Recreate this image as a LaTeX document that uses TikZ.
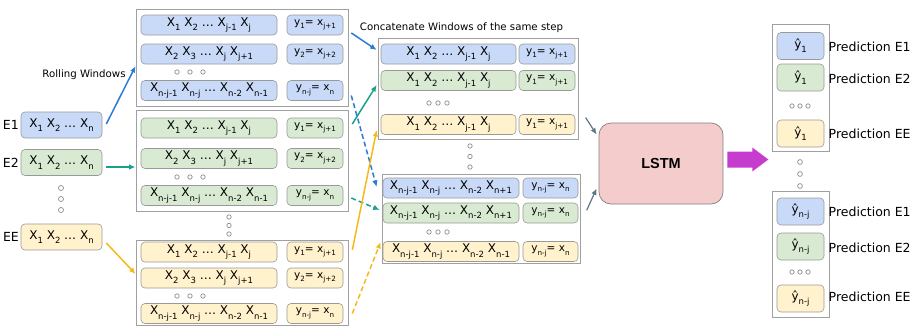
\documentclass[tikz,border=0pt]{standalone}
\usepackage{fontspec}
\setmainfont{DejaVu Sans}
\newfontfamily\lsans{Liberation Sans}
\usetikzlibrary{arrows.meta,calc}

\definecolor{cblue}{HTML}{C9DAF8}
\definecolor{cgreen}{HTML}{D9EAD3}
\definecolor{cyellow}{HTML}{FFF2CC}
\definecolor{cpink}{HTML}{F4CCCC}
\definecolor{edgegray}{HTML}{999999}
\definecolor{framegray}{HTML}{A0A0A0}
\definecolor{dotgray}{HTML}{8C8C8C}
\definecolor{ablue}{HTML}{2B7BD6}
\definecolor{ateal}{HTML}{1BA08C}
\definecolor{ayellow}{HTML}{F5B91E}
\definecolor{amag}{HTML}{C63CCE}
\definecolor{agray}{HTML}{5F7585}

\newcommand\sbs[1]{\raisebox{-0.65ex}{\fontsize{8.5}{8.5}\selectfont #1}}
\newcommand\sbt[1]{\raisebox{-0.6ex}{\fontsize{7.2}{7.2}\selectfont #1}}
\newcommand\txRowA{X\sbs{1} X\sbs{2} … X\sbs{j-1} X\sbs{j}}
\newcommand\txRowB{X\sbs{2} X\sbs{3} … X\sbs{j} X\sbs{j+1}}
\newcommand\txRowC{X\sbs{n-j-1} X\sbs{n-j} … X\sbs{n-2} X\sbs{n-1}}
\newcommand\txRowD{X\sbs{n-j-1} X\sbs{n-j} … X\sbs{n-2} X\sbs{n+1}}
\newcommand\txYA{y\sbt{1}= x\sbt{j+1}}
\newcommand\txYB{y\sbt{2}= x\sbt{j+2}}
\newcommand\txYC{y\sbt{n-j}= x\sbt{n}}
\newcommand\txIn{X\sbs{1} X\sbs{2} … X\sbs{n}}

\tikzset{
  frame/.style={draw=framegray, line width=0.8pt, inner sep=0pt},
  cell/.style={draw=edgegray, line width=0.6pt, rounded corners=4pt, inner sep=0pt,
    font=\fontsize{12}{12}\selectfont},
  lcell/.style={cell, minimum width=136pt, minimum height=20pt},
  rcell/.style={cell, minimum width=56pt, minimum height=20pt, font=\fontsize{10.5}{10.5}\selectfont},
  incell/.style={cell, minimum width=81pt, minimum height=26pt},
  pcell/.style={cell, minimum width=47pt, minimum height=27pt},
  dotc/.style={draw=dotgray, line width=0.7pt},
  conn/.style={line width=1.5pt, -{Latex[length=6.5pt,width=5.5pt]}},
  dsh/.style={dash pattern=on 5pt off 3pt},
  lbl/.style={inner sep=0pt, font=\fontsize{12.5}{13}\selectfont},
}

\begin{document}
\begin{tikzpicture}[x=1pt,y=-1pt]
\useasboundingbox (0,0) rectangle (917,327);

% ---------- input series ----------
\node[incell, fill=cblue]   (e1) at (61.5,125)   {\txIn};
\node[incell, fill=cgreen]  (e2) at (61.5,162.5) {\txIn};
\node[incell, fill=cyellow] (ee) at (61.5,237)   {\txIn};
\node[lbl, anchor=east] (le1) at (19,125)   {E1};
\node[lbl, anchor=east] (le2) at (19,162.5) {E2};
\node[lbl, anchor=east] (lee) at (19,237)   {EE};
\foreach \y in {188,199,210} \draw[dotc] (61,\y) circle (2.5pt);
\node[inner sep=0pt, font=\fontsize{10.2}{10.2}\selectfont] (rw) at (84,75) {Rolling Windows};

% ---------- rolling window groups ----------
\node[frame, minimum width=212pt, minimum height=97pt]  (g1) at (242,57.5)  {};
\node[frame, minimum width=212pt, minimum height=101pt] (g2) at (242,160.5) {};
\node[frame, minimum width=212pt, minimum height=85pt]  (g3) at (242,282.5) {};

\node[lcell, fill=cblue] (l11) at (209,25) {\txRowA};
\node[rcell, fill=cblue] (r11) at (315,25) {\txYA};
\node[lcell, fill=cblue] (l12) at (209,54) {\txRowB};
\node[rcell, fill=cblue] (r12) at (315,54) {\txYB};
\node[lcell, fill=cblue] (l13) at (209,90.5) {\txRowC};
\node[rcell, fill=cblue] (r13) at (315,90.5) {\txYC};
\foreach \x in {177,190,203} \draw[dotc] (\x,72) circle (2.2pt);

\node[lcell, fill=cgreen] (l21) at (209,128) {\txRowA};
\node[rcell, fill=cgreen] (r21) at (315,128) {\txYA};
\node[lcell, fill=cgreen] (l22) at (209,158.5) {\txRowB};
\node[rcell, fill=cgreen] (r22) at (315,158.5) {\txYB};
\node[lcell, fill=cgreen] (l23) at (209,195.5) {\txRowC};
\node[rcell, fill=cgreen] (r23) at (315,195.5) {\txYC};
\foreach \x in {177,190,203} \draw[dotc] (\x,177) circle (2.2pt);

\foreach \y in {217,225.5,234} \draw[dotc] (229,\y) circle (2.2pt);

\node[lcell, fill=cyellow] (l31) at (209,252) {\txRowA};
\node[rcell, fill=cyellow] (r31) at (315,252) {\txYA};
\node[lcell, fill=cyellow] (l32) at (209,278) {\txRowB};
\node[rcell, fill=cyellow] (r32) at (315,278) {\txYB};
\node[lcell, fill=cyellow] (l33) at (209,313.5) {\txRowC};
\node[rcell, fill=cyellow] (r33) at (315,313.5) {\txYC};
\foreach \x in {177,190,203} \draw[dotc] (\x,296) circle (2.2pt);

% ---------- concatenated groups ----------
\node[inner sep=0pt, font=\fontsize{10.2}{10.2}\selectfont] (cw) at (461.5,28) {Concatenate Windows of the same step};
\node[frame, minimum width=200pt, minimum height=101pt] (c1) at (478,88.5) {};
\node[frame, minimum width=198pt, minimum height=89pt]  (c2) at (481,218.5) {};

\node[lcell, minimum width=135pt, fill=cblue]   (c11) at (448.5,54)    {\txRowA};
\node[rcell, fill=cblue]   (d11) at (547,54)    {\txYA};
\node[lcell, minimum width=135pt, fill=cgreen]  (c12) at (448.5,80.5)  {\txRowA};
\node[rcell, fill=cgreen]  (d12) at (547,80.5)  {\txYA};
\node[lcell, minimum width=135pt, fill=cyellow] (c13) at (448.5,124.5) {\txRowA};
\node[rcell, fill=cyellow] (d13) at (547,124.5) {\txYA};
\foreach \x in {429,438,447} \draw[dotc] (\x,103) circle (2.2pt);

\foreach \y in {146,156.5,167} \draw[dotc] (470,\y) circle (2.2pt);

\node[lcell, fill=cblue]   (c21) at (451,188)   {\txRowD};
\node[rcell, minimum width=55pt, fill=cblue]   (d21) at (550.5,188)   {\txYC};
\node[lcell, fill=cgreen]  (c22) at (451,213)   {\txRowD};
\node[rcell, minimum width=55pt, fill=cgreen]  (d22) at (550.5,213)   {\txYC};
\node[lcell, fill=cyellow] (c23) at (451,251.5) {\txRowC};
\node[rcell, minimum width=55pt, fill=cyellow] (d23) at (550.5,251.5) {\txYC};
\foreach \x in {429,438,447} \draw[dotc] (\x,232) circle (2.2pt);

% ---------- LSTM ----------
\node[draw=gray, line width=0.7pt, fill=cpink, rounded corners=12pt, minimum width=124pt,
      minimum height=81pt, font=\lsans\bfseries\fontsize{14.5}{15}\selectfont] (lstm) at (661,163.5) {LSTM};

% ---------- predictions ----------
\node[frame, minimum width=57pt, minimum height=127pt] (p1) at (800.5,87.5) {};
\node[frame, minimum width=57pt, minimum height=126pt] (p2) at (800.5,254) {};
\node[pcell, fill=cblue]   (q11) at (800.5,46)    {ŷ\sbs{1}};
\node[pcell, fill=cgreen]  (q12) at (800.5,77.5)  {ŷ\sbs{1}};
\node[pcell, fill=cyellow] (q13) at (800.5,133.5) {ŷ\sbs{1}};
\foreach \x in {792,800,808} \draw[dotc] (\x,106) circle (2.2pt);
\foreach \y in {162,174,186} \draw[dotc] (800,\y) circle (2.4pt);
\node[pcell, fill=cblue]   (q21) at (800.5,211.5) {ŷ\sbs{n-j}};
\node[pcell, fill=cgreen]  (q22) at (800.5,246.5) {ŷ\sbs{n-j}};
\node[pcell, fill=cyellow] (q23) at (800.5,298.5) {ŷ\sbs{n-j}};
\foreach \x in {792,800,808} \draw[dotc] (\x,272) circle (2.2pt);

\node[lbl, anchor=west] (t11) at (828.5,47)  {Prediction E1};
\node[lbl, anchor=west] (t12) at (828.5,79)  {Prediction E2};
\node[lbl, anchor=west] (t13) at (828.5,134) {Prediction EE};
\node[lbl, anchor=west] (t21) at (828.5,212) {Prediction E1};
\node[lbl, anchor=west] (t22) at (828.5,248) {Prediction E2};
\node[lbl, anchor=west] (t23) at (828.5,297) {Prediction EE};

% ---------- connectors ----------
\draw[conn, ablue]   ($(e1.east)+(4,-1)$) -- ($(g1.west)+(0,8.5)$);
\draw[conn, ateal]   ($(e2.east)+(4,4.5)$) -- ($(g2.west)+(0,6.5)$);
\draw[conn, ayellow] ($(ee.east)+(4,6)$) -- ($(g3.west)+(0,-8.5)$);

\draw[conn, ablue]        ($(r11.east)+(8,8)$)   -- ($(c11.west)+(-4,-4)$);
\draw[conn, ablue, dsh]   ($(r13.east)+(8,5)$)   -- ($(c21.west)+(-6,-1)$);
\draw[conn, ateal]        ($(r21.east)+(9,-4)$)  -- ($(c12.west)+(-4,4.5)$);
\draw[conn, ateal, dsh]   ($(r23.east)+(8,2.5)$) -- ($(c22.west)+(-3,-3)$);
\draw[conn, ayellow]      ($(r31.east)+(9,-2)$)  -- ($(c13.west)+(-4,5.5)$);
\draw[conn, ayellow, dsh] ($(r33.east)+(9,0)$)   -- ($(c23.west)+(-2,-9.5)$);

\draw[conn, agray, line width=1.2pt] ($(lstm.north west)+(-13,-5)$) -- ($(lstm.north west)+(-2,12)$);
\draw[conn, agray, line width=1.2pt] ($(lstm.south west)+(-12,6)$) -- ($(lstm.south west)+(-2,-16)$);

\fill[amag] ($(lstm.east)+(4,-12)$) -- ++(25,0) -- ++(0,-4) -- ++(16,12) -- ++(-16,12)
  -- ++(0,-4) -- ++(-25,0) -- cycle;
\end{tikzpicture}
\end{document}
